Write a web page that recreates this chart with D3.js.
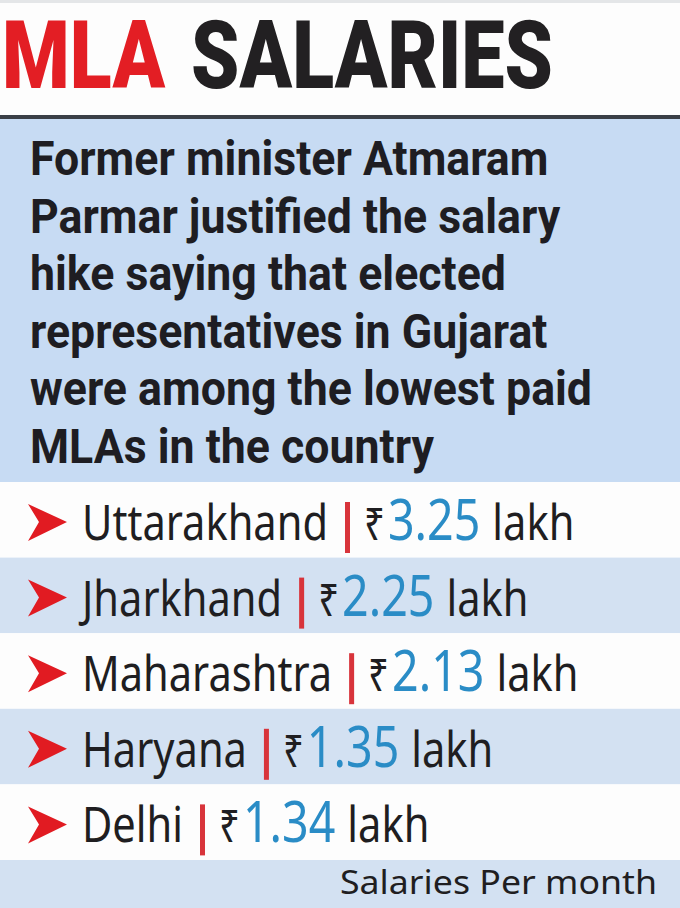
<!DOCTYPE html>
<html>
<head>
<meta charset="utf-8">
<script src="https://cdn.jsdelivr.net/npm/d3@7"></script>
<style>
  html, body { margin: 0; padding: 0; background: #fff; }
  svg { display: block; }
</style>
</head>
<body>
<div id="chart"></div>
<script>
// data
const titleWords = ["MLA", "SALARIES"];
const introLines = [
    "Former minister Atmaram",
    "Parmar justified the salary",
    "hike saying that elected",
    "representatives in Gujarat",
    "were among the lowest paid",
    "MLAs in the country"
];
const states = ["Uttarakhand", "Jharkhand", "Maharashtra", "Haryana", "Delhi"];
const salaries = [3.25, 2.25, 2.13, 1.35, 1.34];
const unitLabel = "lakh";
const footNote = "Salaries Per month";

const width = 680, height = 908;

const svg = d3.select("#chart").append("svg")
    .attr("width", width)
    .attr("height", height);

svg.append("rect").attr("width", width).attr("height", height).attr("fill", "#fdfdfd");
svg.append("rect").attr("width", width).attr("height", 3).attr("fill", "#e4e6e8");

// title
let titleFont = "Roboto, Lato, 'DejaVu Sans', sans-serif";
let mla = svg.append("text")
    .attr("x", 2).attr("y", 88)
    .attr("font-family", titleFont).attr("font-weight", 900)
    .attr("font-size", 94)
    .attr("fill", "#e31e24")
    .text(titleWords[0]);
let sal = svg.append("text")
    .attr("y", 88)
    .attr("font-family", titleFont).attr("font-weight", 900)
    .attr("font-size", 94)
    .attr("fill", "#222022")
    .text(titleWords[1]);
let wM = mla.node().getComputedTextLength();
let wS = sal.node().getComputedTextLength();
let kt = (553 - 2 - 26) / (wM + wS);
mla.attr("textLength", wM * kt).attr("lengthAdjust", "spacingAndGlyphs");
sal.attr("x", 2 + wM * kt + 26)
    .attr("textLength", wS * kt).attr("lengthAdjust", "spacingAndGlyphs");

// divider + intro panel
svg.append("rect").attr("x", 0).attr("y", 115).attr("width", width).attr("height", 4).attr("fill", "#3a3f47");
svg.append("rect").attr("x", 0).attr("y", 119).attr("width", width).attr("height", 363).attr("fill", "#c7dbf3");

let lineY = d3.scalePoint()
    .domain(d3.range(introLines.length))
    .range([175, 463]);

let intro = svg.append("g").selectAll("text")
    .data(introLines)
    .join("text")
    .attr("x", 30)
    .attr("y", (d, i) => lineY(i))
    .attr("font-family", "Roboto, 'Liberation Sans', sans-serif")
    .attr("font-weight", 700)
    .attr("font-size", 49)
    .attr("fill", "#1e1d22")
    .text(d => d);

let refW = intro.nodes()[4].getComputedTextLength();
let kp = 562 / refW;
intro.each(function () {
    let w = this.getComputedTextLength();
    d3.select(this).attr("textLength", w * kp).attr("lengthAdjust", "spacingAndGlyphs");
});

// rows
let rowY = d3.scaleBand()
    .domain(states)
    .range([482, 860]);

let rowFont = "'Noto Sans', 'Open Sans', sans-serif";

let rows = svg.append("g").selectAll("g")
    .data(states)
    .join("g")
    .attr("transform", d => `translate(0, ${rowY(d)})`);

rows.append("rect")
    .attr("width", width)
    .attr("height", rowY.bandwidth())
    .attr("fill", (d, i) => i % 2 === 0 ? "#fdfdfd" : "#d3e1f2");

let base = 58;

rows.append("path")
    .attr("d", `M28,${base - 36} L67,${base - 18} L28,${base + 1} L39,${base - 18} Z`)
    .attr("fill", "#e11b22");

// measure condensing factor from first state name
let probe = svg.append("text").attr("font-family", rowFont).attr("font-size", 50).text(states[0]);
let kr = 246 / probe.node().getComputedTextLength();
probe.remove();

function squeezed(g, txt, x, size, color) {
    let t = g.append("text")
        .attr("x", x).attr("y", base)
        .attr("font-family", rowFont)
        .attr("font-size", size)
        .attr("fill", color)
        .text(txt);
    let w = t.node().getComputedTextLength() * kr;
    t.attr("textLength", w).attr("lengthAdjust", "spacingAndGlyphs");
    return w;
}

rows.each(function (d, i) {
    let g = d3.select(this);
    let x = 82;
    x += squeezed(g, d, x, 50, "#1f1e21");
    x += 17;
    g.append("rect")
        .attr("x", x).attr("y", base - 38)
        .attr("width", 5).attr("height", 51)
        .attr("fill", "#d8343b");
    x += 5 + 14;
    x += squeezed(g, "\u20B9", x, 44, "#1f1e21");
    x += 3;
    x += squeezed(g, d3.format(".2f")(salaries[i]), x, 56, "#2a8cc6");
    x += 12;
    squeezed(g, unitLabel, x, 50, "#1f1e21");
});

// footer
svg.append("rect").attr("x", 0).attr("y", 860).attr("width", width).attr("height", 48).attr("fill", "#d3e1f2");
let foot = svg.append("text")
    .attr("x", 657).attr("y", 894)
    .attr("text-anchor", "end")
    .attr("font-family", rowFont)
    .attr("font-size", 33)
    .attr("fill", "#1f1e21")
    .text(footNote);
foot.attr("textLength", 317).attr("lengthAdjust", "spacingAndGlyphs");
</script>
</body>
</html>
